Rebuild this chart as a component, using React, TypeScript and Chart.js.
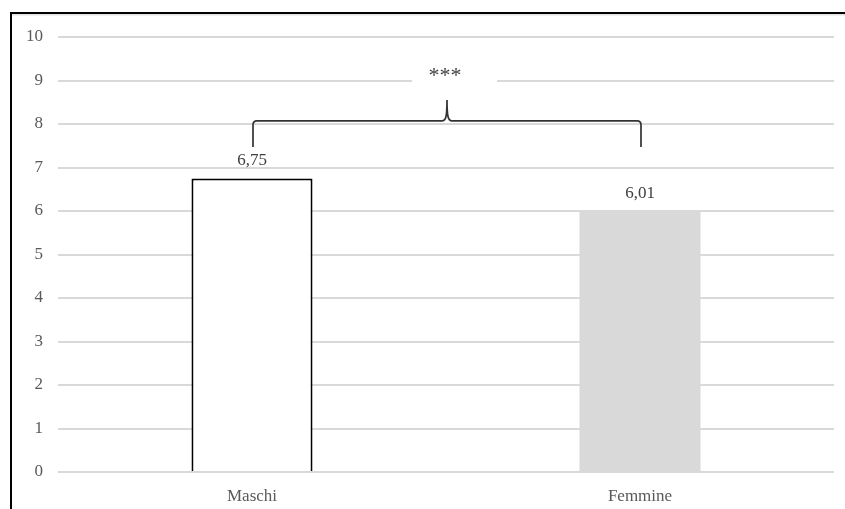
import { useEffect, useRef } from "react";
import { Chart, registerables } from "chart.js";

Chart.register(...registerables);

// Mean scores by gender
const categories = ["Maschi", "Femmine"];
const means = [6.75, 6.01];
const yTickValues = [0, 1, 2, 3, 4, 5, 6, 7, 8, 9, 10];
const significanceLabel = "***";

// Bracket between the two bars (value-axis levels)
const bracketLevel = 8.07;
const bracketEndLevel = 7.47;
const bracketTipLevel = 8.55;
const significanceLevel = 9.15;

const barFills = ["#ffffff", "#d9d9d9"];
const barBorders = ["#000000", "rgba(0,0,0,0)"];
const barBorderWidths = [2, 0];

const SERIF = "'Liberation Serif', 'Times New Roman', serif";

const formatValue = (v: number) => v.toFixed(2).replace(".", ",");

const framePlugin = {
  id: "frame",
  beforeDraw(chart: any) {
    const { ctx, width, height } = chart;
    ctx.save();
    ctx.fillStyle = "#ffffff";
    ctx.fillRect(0, 0, width, height);
    ctx.fillStyle = "#000000";
    ctx.fillRect(10, 12, 2, height - 12);
    ctx.fillRect(10, 12, width - 10, 2);
    ctx.fillStyle = "#e2e2e2";
    ctx.fillRect(12, 14, width - 12, 1.5);
    ctx.restore();
  },
};

const valueLabelPlugin = {
  id: "valueLabels",
  afterDatasetsDraw(chart: any) {
    const { ctx } = chart;
    const meta = chart.getDatasetMeta(0);
    ctx.save();
    ctx.font = `17px ${SERIF}`;
    ctx.fillStyle = "#404040";
    ctx.textAlign = "center";
    ctx.textBaseline = "alphabetic";
    meta.data.forEach((bar: any, i: number) => {
      ctx.fillText(formatValue(means[i]), bar.x, bar.y - 13);
    });
    ctx.restore();
  },
};

const bracketPlugin = {
  id: "bracket",
  afterDraw(chart: any) {
    const { ctx } = chart;
    const xs = chart.scales.x;
    const ys = chart.scales.y;
    const x0 = xs.getPixelForValue(0) + 1;
    const x1 = xs.getPixelForValue(1) + 1;
    const xm = (x0 + x1) / 2;
    const yH = ys.getPixelForValue(bracketLevel);
    const yEnd = ys.getPixelForValue(bracketEndLevel);
    const yTip = ys.getPixelForValue(bracketTipLevel);
    const yText = ys.getPixelForValue(significanceLevel);
    const r = 4;

    ctx.save();
    // text box background over the gridline
    ctx.fillStyle = "#ffffff";
    ctx.fillRect(xm - 35, yText - 14, 85, 24);

    ctx.font = `22px ${SERIF}`;
    ctx.fillStyle = "#404040";
    ctx.textAlign = "center";
    ctx.textBaseline = "alphabetic";
    ctx.fillText(significanceLabel, xm - 2, yText + 8);

    ctx.strokeStyle = "#333333";
    ctx.lineWidth = 1.7;
    ctx.beginPath();
    ctx.moveTo(x0, yEnd);
    ctx.lineTo(x0, yH + r);
    ctx.quadraticCurveTo(x0, yH, x0 + r, yH);
    ctx.lineTo(xm - 5, yH);
    ctx.bezierCurveTo(xm - 1, yH, xm, yH - 5, xm, yTip);
    ctx.bezierCurveTo(xm, yH - 5, xm + 1, yH, xm + 5, yH);
    ctx.lineTo(x1 - r, yH);
    ctx.quadraticCurveTo(x1, yH, x1, yH + r);
    ctx.lineTo(x1, yEnd);
    ctx.stroke();
    ctx.restore();
  },
};

export default function App() {
  const canvasRef = useRef<HTMLCanvasElement | null>(null);

  useEffect(() => {
    document.body.style.margin = "0";
    const canvas = canvasRef.current;
    if (!canvas) return;
    const chart = new Chart(canvas, {
      type: "bar",
      data: {
        labels: categories,
        datasets: [
          {
            data: means,
            backgroundColor: barFills,
            borderColor: barBorders,
            borderWidth: barBorderWidths,
            borderSkipped: "start",
            categoryPercentage: 1,
            barPercentage: 0.312,
          },
        ],
      },
      options: {
        responsive: false,
        animation: false,
        devicePixelRatio: 1,
        layout: { padding: { left: 12, right: 11, top: 37, bottom: 0 } },
        plugins: {
          legend: { display: false },
          tooltip: { enabled: false },
        },
        scales: {
          x: {
            grid: { display: false },
            border: { display: false },
            ticks: {
              padding: 6,
              color: "#595959",
              font: { family: SERIF, size: 17 },
            },
            afterFit(scale: any) {
              scale.height = 37;
            },
          },
          y: {
            min: 0,
            max: 10,
            afterBuildTicks(scale: any) {
              scale.ticks = yTickValues.map((v) => ({ value: v }));
            },
            grid: { color: "#d9d9d9", lineWidth: 2, drawTicks: false },
            border: { display: false },
            ticks: {
              padding: 15,
              color: "#595959",
              font: { family: SERIF, size: 17 },
            },
            afterFit(scale: any) {
              scale.width = 46;
            },
          },
        },
      },
      plugins: [framePlugin, valueLabelPlugin, bracketPlugin],
    });
    return () => chart.destroy();
  }, []);

  return (
    <div style={{ position: "absolute", left: 0, top: 0, width: 845, height: 509 }}>
      <canvas ref={canvasRef} width={845} height={509} style={{ display: "block" }} />
    </div>
  );
}
